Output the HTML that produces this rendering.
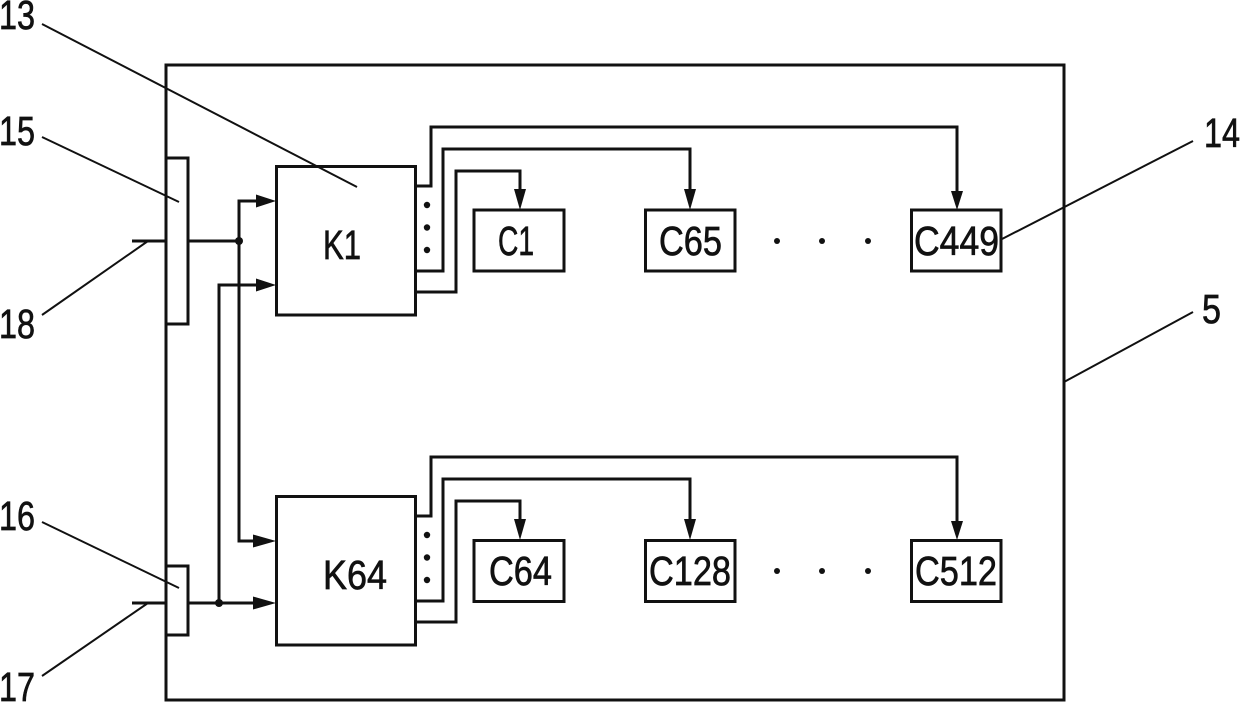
<!DOCTYPE html>
<html>
<head>
<meta charset="utf-8">
<style>
html,body{margin:0;padding:0;background:#fff}
svg{display:block}
text{font-family:"Liberation Sans",sans-serif;font-size:41px;fill:#111;stroke:#111;stroke-width:.7px}
</style>
</head>
<body>
<svg width="1240" height="702" viewBox="0 0 1240 702" xmlns="http://www.w3.org/2000/svg">
<g fill="none" stroke="#111" stroke-width="3">
  <rect x="166" y="65" width="898" height="635"/>
  <rect x="166" y="158" width="22" height="166"/>
  <rect x="166" y="566" width="22" height="69"/>
  <rect x="276.500" y="166.500" width="139" height="148.500"/>
  <rect x="276.500" y="496.500" width="139" height="148.500"/>
  <rect x="474" y="210" width="90" height="61"/>
  <rect x="645.500" y="210" width="89.500" height="61"/>
  <rect x="911.500" y="210" width="89.500" height="61"/>
  <rect x="474" y="540.500" width="90" height="61"/>
  <rect x="645.500" y="540.500" width="89.500" height="61"/>
  <rect x="911.500" y="540.500" width="89.500" height="61"/>

  <path d="M132 241H166M188 241H239"/>
  <path d="M132 603H166M188 603H262"/>
  <path d="M262 201H239V541H262"/>
  <path d="M262 285H219V603"/>

  <path d="M415 186H431V127H957V195"/>
  <path d="M415 271H443V149H690V195"/>
  <path d="M415 292H456V171H520V195"/>
  <path d="M415 516H431V457H957V525"/>
  <path d="M415 601H443V479H690V525"/>
  <path d="M415 622H456V501H520V525"/>
</g>

<g fill="#111" stroke="none">
  <polygon points="256,194.500 276,201 256,207.500"/>
  <polygon points="256,278.500 276,285 256,291.500"/>
  <polygon points="253,534.500 276,541 253,547.500"/>
  <polygon points="253,596.500 276,603 253,609.500"/>
  <polygon points="514,189 526,189 520,210"/>
  <polygon points="684,189 696,189 690,210"/>
  <polygon points="951,191 963,191 957,210"/>
  <polygon points="514,519 526,519 520,540"/>
  <polygon points="684,519 696,519 690,540"/>
  <polygon points="951,521 963,521 957,540"/>
  <circle cx="239" cy="241" r="4"/>
  <circle cx="219" cy="603" r="4"/>
  <circle cx="427" cy="205" r="3.200"/>
  <circle cx="427" cy="227.500" r="3.200"/>
  <circle cx="427" cy="250" r="3.200"/>
  <circle cx="427" cy="535" r="3.200"/>
  <circle cx="427" cy="557.500" r="3.200"/>
  <circle cx="427" cy="580" r="3.200"/>
  <circle cx="777" cy="241" r="3"/>
  <circle cx="822" cy="241" r="3"/>
  <circle cx="868" cy="241" r="3"/>
  <circle cx="777" cy="571" r="3"/>
  <circle cx="822" cy="571" r="3"/>
  <circle cx="868" cy="571" r="3"/>
</g>

<g fill="none" stroke="#111" stroke-width="2">
  <path d="M42 24L357 187"/>
  <path d="M42 137L179 202"/>
  <path d="M42 315L148 241"/>
  <path d="M42 522L179 588"/>
  <path d="M42 676L148 603"/>
  <path d="M1193 141L1002 239"/>
  <path d="M1193 312L1064 382"/>
</g>

<g>
  <text x="-1" y="29" textLength="36" lengthAdjust="spacingAndGlyphs">13</text>
  <text x="-1" y="145" textLength="36" lengthAdjust="spacingAndGlyphs">15</text>
  <text x="-1" y="338" textLength="36" lengthAdjust="spacingAndGlyphs">18</text>
  <text x="-1" y="530" textLength="36" lengthAdjust="spacingAndGlyphs">16</text>
  <text x="-1" y="701" textLength="36" lengthAdjust="spacingAndGlyphs">17</text>
  <text x="1204" y="147" textLength="36" lengthAdjust="spacingAndGlyphs">14</text>
  <text x="1202" y="323" textLength="19" lengthAdjust="spacingAndGlyphs">5</text>
  <text x="323" y="259" textLength="38" lengthAdjust="spacingAndGlyphs">K1</text>
  <text x="323" y="589" textLength="64" lengthAdjust="spacingAndGlyphs">K64</text>
  <text x="498" y="255" textLength="36" lengthAdjust="spacingAndGlyphs">C1</text>
  <text x="659" y="255" textLength="63" lengthAdjust="spacingAndGlyphs">C65</text>
  <text x="914" y="255" textLength="85" lengthAdjust="spacingAndGlyphs">C449</text>
  <text x="489" y="585" textLength="63" lengthAdjust="spacingAndGlyphs">C64</text>
  <text x="649" y="585" textLength="82" lengthAdjust="spacingAndGlyphs">C128</text>
  <text x="915" y="585" textLength="82" lengthAdjust="spacingAndGlyphs">C512</text>
</g>
</svg>
</body>
</html>
